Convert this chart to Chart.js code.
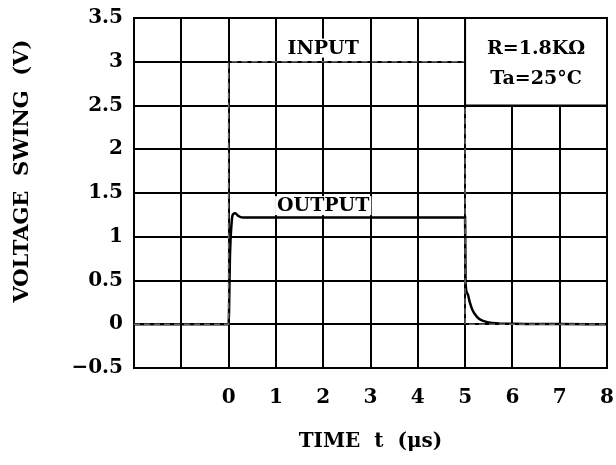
<!DOCTYPE html>
<html>
<head>
<meta charset="utf-8">
<script src="https://cdn.jsdelivr.net/npm/chart.js@4.4.1/dist/chart.umd.min.js"></script>
<style>
  html, body { margin: 0; padding: 0; background: #fff; overflow: hidden; }
  #wrap { width: 616px; height: 465px; }
  canvas { display: block; }
</style>
</head>
<body>
<div id="wrap"><canvas id="myChart"></canvas></div>
<script>
// time in microseconds, voltage in volts
const inputTime = [-2, 0, 0, 5, 5, 8];
const inputVolt = [0, 0, 3, 3, 0, 0];

const outputTime = [-2, 0, 0.03, 0.07, 0.1, 0.14, 0.2, 0.3, 5, 5.01, 5.05, 5.1, 5.15, 5.2, 5.3, 5.4, 5.5, 5.7, 6, 7, 8];
const outputVolt = [0, 0, 0.8, 1.2, 1.26, 1.27, 1.24, 1.22, 1.22, 0.47, 0.35, 0.25, 0.17, 0.12, 0.06, 0.035, 0.02, 0.01, 0.005, 0.002, 0];

const xTicks = [0, 1, 2, 3, 4, 5, 6, 7, 8];
const yTicks = [-0.5, 0, 0.5, 1, 1.5, 2, 2.5, 3, 3.5];

const labelFont = 'bold 19px "DejaVu Serif"';

function toPoints(xs, ys) {
    return xs.map((x, i) => ({ x: x, y: ys[i] }));
}

// white boxes and text labels drawn in data coordinates
const notes = {
    id: 'notes',
    afterDatasetsDraw(chart) {
        const c = chart.ctx;
        const xs = chart.scales.x;
        const ys = chart.scales.y;
        c.save();
        // condition box, upper right
        const bx1 = xs.getPixelForValue(5), bx2 = xs.getPixelForValue(8);
        const by1 = ys.getPixelForValue(3.5), by2 = ys.getPixelForValue(2.5);
        c.fillStyle = '#fff';
        c.fillRect(bx1, by1, bx2 - bx1, by2 - by1);
        c.strokeStyle = '#000';
        c.lineWidth = 2;
        c.strokeRect(bx1, by1, bx2 - bx1, by2 - by1);
        c.font = labelFont;
        c.fillStyle = '#000';
        c.textAlign = 'center';
        c.textBaseline = 'middle';
        const bc = (bx1 + bx2) / 2;
        c.fillText('R=1.8KΩ', bc, ys.getPixelForValue(3.15));
        c.fillText('Ta=25°C', bc, ys.getPixelForValue(2.8));

        // INPUT / OUTPUT tags
        const tags = [['INPUT', 2, 3.15], ['OUTPUT', 2, 1.35]];
        tags.forEach(t => {
            const px = xs.getPixelForValue(t[1]);
            const py = ys.getPixelForValue(t[2]);
            const w = c.measureText(t[0]).width;
            c.fillStyle = '#fff';
            c.fillRect(px - w / 2 - 2, py - 10, w + 4, 19);
            c.fillStyle = '#000';
            c.fillText(t[0], px, py);
        });
        c.restore();
    }
};

const ctx = document.getElementById('myChart');

const myChart = new Chart(ctx, {
    type: 'scatter',
    data: {
        datasets: [{
            label: 'INPUT',
            data: toPoints(inputTime, inputVolt),
            showLine: true,
            borderColor: '#666',
            borderWidth: 1.5,
            borderDash: [6, 4],
            pointRadius: 0
        }, {
            label: 'OUTPUT',
            data: toPoints(outputTime, outputVolt),
            showLine: true,
            borderColor: '#000',
            borderWidth: 2.5,
            cubicInterpolationMode: 'monotone',
            pointRadius: 0
        }]
    },
    options: {
        responsive: true,
        maintainAspectRatio: false,
        animation: false,
        layout: { padding: { left: 0, right: 9, top: 18, bottom: 0 } },
        plugins: {
            legend: { display: false },
            tooltip: { enabled: false }
        },
        scales: {
            x: {
                type: 'linear',
                min: -2,
                max: 8,
                afterBuildTicks: (axis) => {
                    axis.ticks = [-2, -1].concat(xTicks).map(v => ({ value: v }));
                },
                afterFit: (axis) => {
                    axis.height = 97;
                    axis.paddingLeft = 0;
                    axis.paddingRight = 0;
                },
                grid: { color: '#000', lineWidth: 2, drawTicks: false },
                border: { color: '#000', width: 2 },
                ticks: {
                    color: '#000',
                    padding: 18,
                    maxRotation: 0,
                    autoSkip: false,
                    font: { family: 'DejaVu Serif', weight: 'bold', size: 20 },
                    callback: (v) => (v >= 0 ? String(v) : '')
                },
                title: {
                    display: true,
                    text: 'TIME  t  (\u03bcs)',
                    color: '#000',
                    padding: { top: 0, bottom: 11 },
                    font: { family: 'DejaVu Serif', weight: 'bold', size: 20 }
                }
            },
            y: {
                min: -0.5,
                max: 3.5,
                afterBuildTicks: (axis) => {
                    axis.ticks = yTicks.map(v => ({ value: v }));
                },
                afterFit: (axis) => {
                    axis.width = 134;
                    axis.paddingTop = 0;
                    axis.paddingBottom = 0;
                },
                grid: { color: '#000', lineWidth: 2, drawTicks: false },
                border: { color: '#000', width: 2 },
                ticks: {
                    color: '#000',
                    padding: 11,
                    font: { family: 'DejaVu Serif', weight: 'bold', size: 20 },
                    callback: (v) => String(v).replace('-', '\u2212')
                },
                title: {
                    display: true,
                    text: '\u00a0\u00a0\u00a0\u00a0\u00a0\u00a0VOLTAGE  SWING  (V)',
                    color: '#000',
                    padding: { top: 10, bottom: 0 },
                    font: { family: 'DejaVu Serif', weight: 'bold', size: 21 }
                }
            }
        }
    },
    plugins: [notes]
});
</script>
</body>
</html>
